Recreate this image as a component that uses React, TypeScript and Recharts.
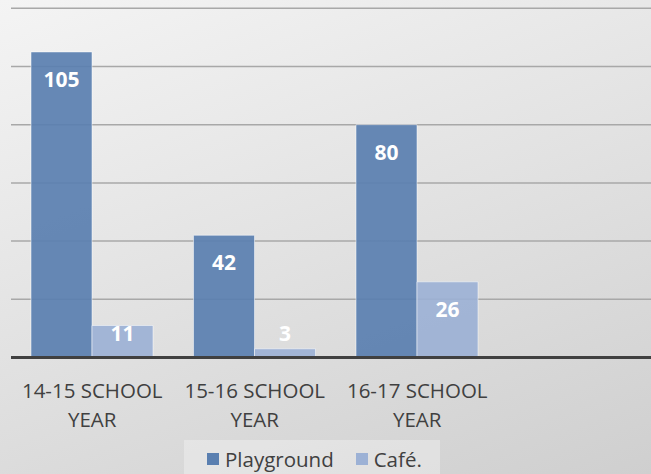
import { BarChart, Bar, XAxis, YAxis, CartesianGrid, Legend, LabelList } from 'recharts';

// chart values
const categories = ['14-15 SCHOOL YEAR', '15-16 SCHOOL YEAR', '16-17 SCHOOL YEAR', ''];
const playground = [105, 42, 80, null];
const cafe = [11, 3, 26, null];
const yTicks = [0, 20, 40, 60, 80, 100, 120];

const PLAY_COLOR = '#5a7fb0';
const CAFE_COLOR = '#9cb1d5';
const FONT = '"Open Sans", sans-serif';

const data = categories.map((name, i) => ({
  name,
  playground: playground[i],
  cafe: cafe[i],
}));

function SchoolYearTick(props: any) {
  const { x, y, payload } = props;
  const label: string = payload.value || '';
  const cut = label.lastIndexOf(' ');
  const lines = cut > 0 ? [label.slice(0, cut), label.slice(cut + 1)] : [label];
  return (
    <g>
      {lines.map((line, i) => (
        <text
          key={i}
          x={x}
          y={y + 38.5 + i * 29}
          textAnchor="middle"
          fill="#404040"
          fontSize={20.5}
          fontFamily={FONT}
        >
          {line}
        </text>
      ))}
    </g>
  );
}

function ValueLabel(props: any) {
  const { x, y, width, height, value } = props;
  if (value == null) return null;
  const bottom = y + height;
  // inside end, pushed up when the bar is too short
  const cy = Math.min(y + 27.5, bottom - 24);
  return (
    <text
      x={x + width / 2}
      y={cy}
      dy={7.5}
      textAnchor="middle"
      fill="#ffffff"
      fontSize={21}
      fontWeight="bold"
      fontFamily={FONT}
    >
      {value}
    </text>
  );
}

function LegendBox() {
  const items = [
    { label: 'Playground', color: PLAY_COLOR },
    { label: 'Café.', color: CAFE_COLOR },
  ];
  return (
    <div
      style={{
        width: 256,
        height: 34,
        background: 'rgba(255,255,255,0.3)',
        display: 'flex',
        alignItems: 'center',
        paddingLeft: 23,
        paddingTop: 3,
        boxSizing: 'border-box',
        fontFamily: FONT,
        fontSize: 20.5,
        color: '#404040',
      }}
    >
      {items.map((it, i) => (
        <div key={it.label} style={{ display: 'flex', alignItems: 'center', marginRight: i === 0 ? 22 : 0 }}>
          <span style={{ display: 'inline-block', width: 12, height: 12, background: it.color, marginRight: 6 }} />
          <span>{it.label}</span>
        </div>
      ))}
    </div>
  );
}

export default function App() {
  return (
    <div
      style={{
        position: 'absolute',
        left: 0,
        top: 0,
        width: 651,
        height: 474,
        overflow: 'hidden',
        background: 'linear-gradient(160deg, #f4f4f4 0%, #e2e2e2 50%, #cfcfcf 100%)',
      }}
    >
      <BarChart
        width={661}
        height={474}
        data={data}
        margin={{ top: 8.3, right: 0, bottom: 0, left: 11 }}
        barCategoryGap={20}
        barGap={0}
      >
        <CartesianGrid vertical={false} stroke="#a8a8a8" strokeWidth={1.5} />
        <YAxis hide domain={[0, 120]} ticks={yTicks} />
        <XAxis
          dataKey="name"
          height={82.5}
          tickLine={false}
          tickSize={0}
          interval={0}
          axisLine={{ stroke: '#404040', strokeWidth: 3 }}
          tick={<SchoolYearTick />}
        />
        <Legend
          verticalAlign="bottom"
          content={<LegendBox />}
          wrapperStyle={{ position: 'absolute', left: 184, top: 440, bottom: 'auto', width: 256, height: 34 }}
        />
        <Bar
          dataKey="playground"
          name="Playground"
          fill={PLAY_COLOR}
          fillOpacity={0.92}
          stroke="rgba(255,255,255,0.5)"
          strokeWidth={1}
          isAnimationActive={false}
        >
          <LabelList dataKey="playground" content={<ValueLabel />} />
        </Bar>
        <Bar
          dataKey="cafe"
          name="Café."
          fill={CAFE_COLOR}
          fillOpacity={0.92}
          stroke="rgba(255,255,255,0.5)"
          strokeWidth={1}
          isAnimationActive={false}
        >
          <LabelList dataKey="cafe" content={<ValueLabel />} />
        </Bar>
      </BarChart>
    </div>
  );
}
